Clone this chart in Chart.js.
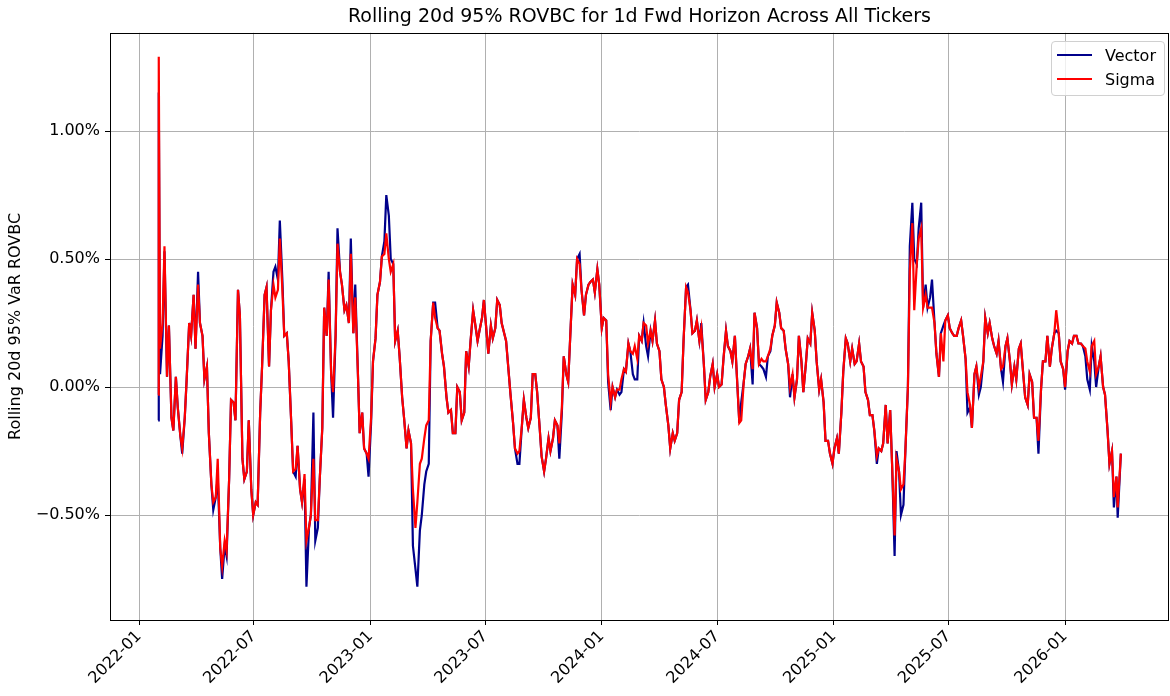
<!DOCTYPE html>
<html>
<head>
<meta charset="utf-8">
<script src="https://cdn.jsdelivr.net/npm/chart.js@4.4.1/dist/chart.umd.min.js"></script>
<style>
  body { margin: 0; background: #fff; }
  #wrap { position: relative; width: 1170px; height: 696px; }
  #legend {
    position: absolute; left: 1051px; top: 41px; width: 114px; height: 55px;
    box-sizing: border-box; border: 1px solid #d0d0d0; border-radius: 4px;
    background: rgba(255, 255, 255, 0.8);
    font: 16px 'DejaVu Sans', sans-serif; color: #000;
  }
  #legend .row { position: absolute; left: 0; height: 20px; display: flex; align-items: center; }
  #legend .swatch { width: 35px; height: 2px; margin-left: 5px; margin-right: 13px; }
</style>
</head>
<body>
<div id="wrap">
  <canvas id="chart" width="1170" height="696"></canvas>
  <div id="legend"></div>
</div>
<script>
// readings taken twice a week (Mon/Thu) off the picture, values in %
const dates = [
  '2022-01-31','2022-02-01','2022-02-03',
  '2022-02-07','2022-02-10','2022-02-14','2022-02-17','2022-02-21','2022-02-24','2022-02-28','2022-03-03',
  '2022-03-07','2022-03-10','2022-03-14','2022-03-17','2022-03-21','2022-03-24','2022-03-28','2022-03-31',
  '2022-04-04','2022-04-07','2022-04-11','2022-04-14','2022-04-18','2022-04-21','2022-04-25','2022-04-28',
  '2022-05-02','2022-05-05','2022-05-09','2022-05-12','2022-05-16','2022-05-19','2022-05-23','2022-05-26','2022-05-30','2022-06-02',
  '2022-06-06','2022-06-09','2022-06-13','2022-06-16','2022-06-20','2022-06-23','2022-06-27','2022-06-30',
  '2022-07-04','2022-07-07','2022-07-11','2022-07-14','2022-07-18','2022-07-21','2022-07-25','2022-07-28',
  '2022-08-01','2022-08-04','2022-08-08','2022-08-11','2022-08-15','2022-08-18','2022-08-22','2022-08-25','2022-08-29','2022-09-01',
  '2022-09-05','2022-09-08','2022-09-12','2022-09-15','2022-09-19','2022-09-22','2022-09-26','2022-09-29',
  '2022-10-03','2022-10-06','2022-10-10','2022-10-13','2022-10-17','2022-10-20','2022-10-24','2022-10-27','2022-10-31','2022-11-03',
  '2022-11-07','2022-11-10','2022-11-14','2022-11-17','2022-11-21','2022-11-24','2022-11-28','2022-12-01',
  '2022-12-05','2022-12-08','2022-12-12','2022-12-15','2022-12-19','2022-12-22','2022-12-26','2022-12-29',

  '2023-01-02','2023-01-05','2023-01-09','2023-01-12','2023-01-16','2023-01-19','2023-01-23','2023-01-26','2023-01-30','2023-02-02',
  '2023-02-06','2023-02-09','2023-02-13','2023-02-16','2023-02-20','2023-02-23','2023-02-27','2023-03-02',
  '2023-03-06','2023-03-09','2023-03-13','2023-03-16','2023-03-20','2023-03-23','2023-03-27','2023-03-30',
  '2023-04-03','2023-04-06','2023-04-10','2023-04-13','2023-04-17','2023-04-20','2023-04-24','2023-04-27',
  '2023-05-01','2023-05-04','2023-05-08','2023-05-11','2023-05-15','2023-05-18','2023-05-22','2023-05-25','2023-05-29','2023-06-01',
  '2023-06-05','2023-06-08','2023-06-12','2023-06-15','2023-06-19','2023-06-22','2023-06-26','2023-06-29',
  '2023-07-03','2023-07-06','2023-07-10','2023-07-13','2023-07-17','2023-07-20','2023-07-24','2023-07-27','2023-07-31','2023-08-03',
  '2023-08-07','2023-08-10','2023-08-14','2023-08-17','2023-08-21','2023-08-24','2023-08-28','2023-08-31',
  '2023-09-04','2023-09-07','2023-09-11','2023-09-14','2023-09-18','2023-09-21','2023-09-25','2023-09-28',
  '2023-10-02','2023-10-05','2023-10-09','2023-10-12','2023-10-16','2023-10-19','2023-10-23','2023-10-26','2023-10-30','2023-11-02',
  '2023-11-06','2023-11-09','2023-11-13','2023-11-16','2023-11-20','2023-11-23','2023-11-27','2023-11-30',
  '2023-12-04','2023-12-07','2023-12-11','2023-12-14','2023-12-18','2023-12-21','2023-12-25','2023-12-28',

  '2024-01-01','2024-01-04','2024-01-08','2024-01-11','2024-01-15','2024-01-18','2024-01-22','2024-01-25','2024-01-29','2024-02-01',
  '2024-02-05','2024-02-08','2024-02-12','2024-02-15','2024-02-19','2024-02-22','2024-02-26','2024-02-29',
  '2024-03-04','2024-03-07','2024-03-11','2024-03-14','2024-03-18','2024-03-21','2024-03-25','2024-03-28',
  '2024-04-01','2024-04-04','2024-04-08','2024-04-11','2024-04-15','2024-04-18','2024-04-22','2024-04-25','2024-04-29','2024-05-02',
  '2024-05-06','2024-05-09','2024-05-13','2024-05-16','2024-05-20','2024-05-23','2024-05-27','2024-05-30',
  '2024-06-03','2024-06-06','2024-06-10','2024-06-13','2024-06-17','2024-06-20','2024-06-24','2024-06-27',
  '2024-07-01','2024-07-04','2024-07-08','2024-07-11','2024-07-15','2024-07-18','2024-07-22','2024-07-25','2024-07-29','2024-08-01',
  '2024-08-05','2024-08-08','2024-08-12','2024-08-15','2024-08-19','2024-08-22','2024-08-26','2024-08-29',
  '2024-09-02','2024-09-05','2024-09-09','2024-09-12','2024-09-16','2024-09-19','2024-09-23','2024-09-26','2024-09-30','2024-10-03',
  '2024-10-07','2024-10-10','2024-10-14','2024-10-17','2024-10-21','2024-10-24','2024-10-28','2024-10-31',
  '2024-11-04','2024-11-07','2024-11-11','2024-11-14','2024-11-18','2024-11-21','2024-11-25','2024-11-28',
  '2024-12-02','2024-12-05','2024-12-09','2024-12-12','2024-12-16','2024-12-19','2024-12-23','2024-12-26','2024-12-30',

  '2025-01-02','2025-01-06','2025-01-09','2025-01-13','2025-01-16','2025-01-20','2025-01-23','2025-01-27','2025-01-30',
  '2025-02-03','2025-02-06','2025-02-10','2025-02-13','2025-02-17','2025-02-20','2025-02-24','2025-02-27',
  '2025-03-03','2025-03-06','2025-03-10','2025-03-13','2025-03-17','2025-03-20','2025-03-24','2025-03-27','2025-03-31','2025-04-03',
  '2025-04-07','2025-04-10','2025-04-14','2025-04-17','2025-04-21','2025-04-24','2025-04-28','2025-05-01',
  '2025-05-05','2025-05-08','2025-05-12','2025-05-15','2025-05-19','2025-05-22','2025-05-26','2025-05-29',
  '2025-06-02','2025-06-05','2025-06-09','2025-06-12','2025-06-16','2025-06-19','2025-06-23','2025-06-26','2025-06-30','2025-07-03',
  '2025-07-07','2025-07-10','2025-07-14','2025-07-17','2025-07-21','2025-07-24','2025-07-28','2025-07-31',
  '2025-08-04','2025-08-07','2025-08-11','2025-08-14','2025-08-18','2025-08-21','2025-08-25','2025-08-28',
  '2025-09-01','2025-09-04','2025-09-08','2025-09-11','2025-09-15','2025-09-18','2025-09-22','2025-09-25','2025-09-29','2025-10-02',
  '2025-10-06','2025-10-09','2025-10-13','2025-10-16','2025-10-20','2025-10-23','2025-10-27','2025-10-30',
  '2025-11-03','2025-11-06','2025-11-10','2025-11-13','2025-11-17','2025-11-20','2025-11-24','2025-11-27',
  '2025-12-01','2025-12-04','2025-12-08','2025-12-11','2025-12-15','2025-12-18','2025-12-22','2025-12-25','2025-12-29',

  '2026-01-01','2026-01-05','2026-01-08','2026-01-12','2026-01-15','2026-01-19','2026-01-22','2026-01-26','2026-01-29',
  '2026-02-02','2026-02-05','2026-02-09','2026-02-12','2026-02-16','2026-02-19','2026-02-23','2026-02-26',
  '2026-03-02','2026-03-05','2026-03-09','2026-03-12','2026-03-16','2026-03-19','2026-03-23','2026-03-25','2026-03-30'
];

const vector = [
  -0.13, 1.15, 0.05,
  0.20, 0.53, 0.04, 0.24, -0.12, -0.17, 0.04, -0.08,
  -0.19, -0.26, -0.12, 0.03, 0.25, 0.20, 0.36, 0.15,
  0.45, 0.25, 0.20, 0.03, 0.08, -0.18, -0.38, -0.48,
  -0.43, -0.35, -0.63, -0.75, -0.62, -0.66, -0.36, -0.05, -0.06, -0.13,
  0.38, 0.28, -0.28, -0.36, -0.33, -0.13, -0.40, -0.50,
  -0.45, -0.46, -0.10, 0.08, 0.36, 0.39, 0.08, 0.30,
  0.45, 0.47, 0.42, 0.65, 0.42, 0.20, 0.21, 0.10, -0.14, -0.33,
  -0.35, -0.23, -0.40, -0.45, -0.36, -0.78, -0.55, -0.50,
  -0.10, -0.60, -0.55, -0.36, -0.16, 0.31, 0.20, 0.45, 0.05, -0.12,
  0.20, 0.62, 0.45, 0.40, 0.30, 0.32, 0.25, 0.58,
  0.21, 0.40, 0.07, -0.18, -0.10, -0.24, -0.26, -0.35,

  -0.14, 0.10, 0.19, 0.36, 0.41, 0.51, 0.57, 0.75, 0.67, 0.50,
  0.48, 0.18, 0.22, 0.12, -0.04, -0.12, -0.24, -0.17,
  -0.22, -0.62, -0.71, -0.78, -0.56, -0.50, -0.38, -0.33,
  -0.30, 0.18, 0.33, 0.33, 0.23, 0.22, 0.13, 0.08,
  -0.04, -0.10, -0.09, -0.18, -0.18, 0.00, -0.02, -0.13, -0.10, 0.14,
  0.08, 0.18, 0.30, 0.25, 0.18, 0.22, 0.27, 0.34,
  0.22, 0.13, 0.24, 0.19, 0.23, 0.34, 0.32, 0.25, 0.21, 0.18,
  0.06, -0.03, -0.14, -0.24, -0.30, -0.30, -0.15, -0.05,
  -0.12, -0.16, -0.12, 0.05, 0.05, -0.02, -0.16, -0.27,
  -0.33, -0.28, -0.20, -0.25, -0.20, -0.13, -0.15, -0.28, -0.10, 0.12,
  0.05, 0.02, 0.24, 0.40, 0.36, 0.50, 0.52, 0.38,
  0.28, 0.36, 0.40, 0.41, 0.42, 0.37, 0.46, 0.40,

  0.23, 0.27, 0.26, 0.02, -0.09, 0.00, -0.04, -0.01, -0.03, -0.02,
  0.07, 0.06, 0.17, 0.14, 0.05, 0.03, 0.03, 0.20,
  0.18, 0.25, 0.16, 0.12, 0.22, 0.18, 0.26, 0.17,
  0.14, 0.03, 0.00, -0.07, -0.15, -0.24, -0.18, -0.21, -0.18, -0.05,
  -0.02, 0.18, 0.39, 0.40, 0.30, 0.21, 0.22, 0.26,
  0.18, 0.25, 0.09, -0.05, -0.02, 0.04, 0.09, 0.00,
  0.05, 0.00, 0.01, 0.11, 0.22, 0.16, 0.14, 0.10, 0.20, 0.05,
  -0.14, -0.06, 0.02, 0.09, 0.12, 0.15, 0.01, 0.29,
  0.23, 0.09, 0.08, 0.07, 0.04, 0.12, 0.14, 0.20, 0.24, 0.33,
  0.29, 0.23, 0.22, 0.15, 0.09, -0.04, 0.05, -0.04,
  0.03, 0.20, 0.10, -0.02, 0.09, 0.19, 0.17, 0.29,
  0.22, 0.10, -0.01, 0.03, -0.06, -0.21, -0.21, -0.26, -0.30,

  -0.24, -0.20, -0.26, -0.10, 0.06, 0.19, 0.17, 0.10, 0.15,
  0.09, 0.10, 0.17, 0.10, 0.08, -0.02, -0.05, -0.11,
  -0.11, -0.17, -0.30, -0.24, -0.25, -0.22, -0.07, -0.22, -0.09, -0.30,
  -0.66, -0.25, -0.33, -0.50, -0.46, -0.25, 0.00, 0.55,
  0.72, 0.50, 0.48, 0.62, 0.72, 0.31, 0.40, 0.31,
  0.35, 0.42, 0.25, 0.13, 0.04, 0.21, 0.24, 0.26, 0.28, 0.23,
  0.21, 0.20, 0.20, 0.23, 0.26, 0.20, 0.11, -0.10,
  -0.08, -0.16, 0.05, 0.08, -0.03, 0.00, 0.10, 0.27,
  0.21, 0.25, 0.19, 0.16, 0.13, 0.18, 0.07, 0.02, 0.16, 0.19,
  0.10, 0.01, 0.08, 0.03, 0.15, 0.17, 0.05, -0.04,
  -0.07, 0.05, 0.02, -0.12, -0.12, -0.26, -0.01, 0.10,
  0.10, 0.20, 0.08, 0.15, 0.21, 0.22, 0.21, 0.10, 0.07,

  -0.01, 0.14, 0.18, 0.17, 0.20, 0.20, 0.17, 0.17, 0.16,
  0.12, 0.03, -0.01, 0.16, 0.10, 0.00, 0.08, 0.12,
  0.00, -0.03, -0.17, -0.30, -0.25, -0.47, -0.35, -0.51, -0.26
];

const sigma = [
  -0.03, 1.29, 0.15,
  0.25, 0.55, 0.04, 0.24, -0.12, -0.17, 0.04, -0.08,
  -0.19, -0.24, -0.12, 0.03, 0.25, 0.20, 0.36, 0.15,
  0.40, 0.25, 0.20, 0.03, 0.08, -0.18, -0.38, -0.45,
  -0.43, -0.28, -0.63, -0.70, -0.60, -0.64, -0.36, -0.05, -0.06, -0.13,
  0.38, 0.28, -0.28, -0.36, -0.33, -0.13, -0.40, -0.50,
  -0.45, -0.46, -0.10, 0.08, 0.36, 0.39, 0.08, 0.30,
  0.40, 0.35, 0.38, 0.58, 0.38, 0.20, 0.21, 0.10, -0.14, -0.33,
  -0.32, -0.23, -0.40, -0.45, -0.34, -0.60, -0.55, -0.50,
  -0.28, -0.52, -0.52, -0.36, -0.16, 0.31, 0.20, 0.42, 0.05, -0.02,
  0.20, 0.56, 0.45, 0.40, 0.30, 0.32, 0.25, 0.52,
  0.21, 0.35, 0.07, -0.18, -0.10, -0.24, -0.26, -0.28,

  -0.12, 0.10, 0.19, 0.36, 0.41, 0.51, 0.52, 0.60, 0.50, 0.45,
  0.48, 0.18, 0.22, 0.12, -0.04, -0.12, -0.24, -0.17,
  -0.22, -0.40, -0.55, -0.45, -0.30, -0.28, -0.20, -0.15,
  -0.13, 0.18, 0.33, 0.27, 0.23, 0.22, 0.13, 0.08,
  -0.04, -0.10, -0.09, -0.18, -0.18, 0.00, -0.02, -0.13, -0.10, 0.14,
  0.08, 0.18, 0.30, 0.25, 0.18, 0.22, 0.27, 0.34,
  0.22, 0.13, 0.24, 0.19, 0.23, 0.34, 0.32, 0.25, 0.21, 0.18,
  0.06, -0.03, -0.14, -0.24, -0.26, -0.25, -0.15, -0.05,
  -0.12, -0.16, -0.12, 0.05, 0.05, -0.02, -0.16, -0.27,
  -0.33, -0.28, -0.20, -0.25, -0.20, -0.13, -0.15, -0.22, -0.08, 0.12,
  0.05, 0.02, 0.24, 0.40, 0.36, 0.50, 0.48, 0.38,
  0.28, 0.36, 0.40, 0.41, 0.42, 0.37, 0.46, 0.40,

  0.23, 0.27, 0.26, 0.05, -0.06, 0.00, -0.04, -0.01, -0.01, 0.03,
  0.07, 0.06, 0.17, 0.14, 0.13, 0.16, 0.11, 0.20,
  0.18, 0.25, 0.24, 0.17, 0.22, 0.18, 0.26, 0.17,
  0.14, 0.03, 0.00, -0.07, -0.15, -0.24, -0.18, -0.21, -0.18, -0.05,
  -0.02, 0.18, 0.39, 0.37, 0.30, 0.21, 0.22, 0.26,
  0.18, 0.23, 0.09, -0.05, -0.02, 0.04, 0.09, 0.00,
  0.05, 0.00, 0.01, 0.11, 0.22, 0.16, 0.14, 0.10, 0.20, 0.05,
  -0.14, -0.13, 0.02, 0.09, 0.12, 0.15, 0.07, 0.29,
  0.23, 0.09, 0.11, 0.10, 0.10, 0.12, 0.15, 0.20, 0.24, 0.33,
  0.29, 0.23, 0.22, 0.15, 0.09, 0.00, 0.05, -0.04,
  0.03, 0.20, 0.10, -0.02, 0.09, 0.19, 0.17, 0.29,
  0.22, 0.10, -0.01, 0.03, -0.06, -0.21, -0.21, -0.26, -0.30,

  -0.24, -0.20, -0.26, -0.10, 0.06, 0.19, 0.17, 0.10, 0.15,
  0.09, 0.10, 0.17, 0.10, 0.08, -0.02, -0.05, -0.11,
  -0.11, -0.17, -0.27, -0.24, -0.25, -0.22, -0.07, -0.22, -0.09, -0.30,
  -0.58, -0.28, -0.33, -0.40, -0.38, -0.25, 0.00, 0.45,
  0.64, 0.30, 0.48, 0.58, 0.62, 0.31, 0.36, 0.31,
  0.31, 0.31, 0.25, 0.13, 0.04, 0.21, 0.10, 0.26, 0.28, 0.23,
  0.21, 0.20, 0.20, 0.23, 0.26, 0.20, 0.11, -0.02,
  -0.07, -0.16, 0.05, 0.08, 0.00, 0.04, 0.10, 0.27,
  0.21, 0.25, 0.19, 0.16, 0.13, 0.18, 0.07, 0.08, 0.16, 0.19,
  0.10, 0.01, 0.08, 0.03, 0.15, 0.17, 0.05, -0.04,
  -0.07, 0.05, 0.02, -0.12, -0.12, -0.21, -0.01, 0.10,
  0.10, 0.20, 0.08, 0.15, 0.21, 0.30, 0.21, 0.10, 0.07,

  0.00, 0.14, 0.18, 0.17, 0.20, 0.20, 0.17, 0.17, 0.16,
  0.15, 0.10, 0.06, 0.16, 0.18, 0.05, 0.08, 0.12,
  0.00, -0.03, -0.17, -0.30, -0.25, -0.43, -0.35, -0.47, -0.26
];

const tickLabels = ['2022-01', '2022-07', '2023-01', '2023-07', '2024-01', '2024-07', '2025-01', '2025-07', '2026-01'];
const yTicks = [-0.5, 0, 0.5, 1.0];

const seriesNames = ['Vector', 'Sigma'];
const seriesColors = ['#00008b', '#ff0000'];

const FONT = 'DejaVu Sans';
const DAY = 86400000;
const origin = Date.UTC(2022, 0, 1);
const toDay = (s) => (Date.parse(s) - origin) / DAY;

const xs = dates.map(toDay);
const span = xs[xs.length - 1] - xs[0];

// axes frame drawn on top, like matplotlib spines
const frame = {
    id: 'frame',
    afterDraw(chart) {
        const { ctx, chartArea: a } = chart;
        ctx.save();
        ctx.strokeStyle = '#000';
        ctx.lineWidth = 1;
        ctx.strokeRect(Math.round(a.left) + 0.5, Math.round(a.top) + 0.5,
            Math.round(a.right - a.left) - 1, Math.round(a.bottom - a.top));
        ctx.restore();
    },
};

const chart = new Chart(document.getElementById('chart'), {
    type: 'line',
    data: {
        datasets: [vector, sigma].map((vals, i) => ({
            label: seriesNames[i],
            data: xs.map((x, j) => ({ x, y: vals[j] })),
            borderColor: seriesColors[i],
            borderWidth: 2.2,
            pointRadius: 0,
            tension: 0,
            order: 1 - i,
        })),
    },
    options: {
        responsive: false,
        animation: false,
        devicePixelRatio: 1,
        layout: { padding: { left: 0, right: 1, top: 0, bottom: 0 } },
        plugins: {
            legend: { display: false },
            tooltip: { enabled: false },
            title: {
                display: true,
                fullSize: false,
                text: 'Rolling 20d 95% ROVBC for 1d Fwd Horizon Across All Tickers',
                color: '#000',
                font: { family: FONT, size: 19, weight: 'normal' },
                padding: { top: 6, bottom: 4 },
            },
        },
        scales: {
            x: {
                type: 'linear',
                min: xs[0] - 0.05 * span,
                max: xs[xs.length - 1] + 0.05 * span,
                afterBuildTicks: (s) => { s.ticks = tickLabels.map((t) => ({ value: toDay(t + '-01') })); },
                afterFit: (s) => { s.height = 76; },
                ticks: {
                    autoSkip: false,
                    minRotation: 45,
                    maxRotation: 45,
                    color: '#000',
                    padding: 2,
                    font: { family: FONT, size: 16 },
                    callback: (v, i) => tickLabels[i],
                },
                grid: { color: '#b0b0b0', lineWidth: 1, tickColor: '#000', tickLength: 5 },
                border: { display: false },
            },
            y: {
                min: -0.91,
                max: 1.3836,
                afterBuildTicks: (s) => { s.ticks = yTicks.map((v) => ({ value: v })); },
                afterFit: (s) => { s.width = 110; },
                ticks: {
                    color: '#000',
                    padding: 5,
                    font: { family: FONT, size: 16 },
                    callback: (v) => (v < 0 ? '\u2212' : '') + Math.abs(v).toFixed(2) + '%',
                },
                title: {
                    display: true,
                    text: 'Rolling 20d 95% VaR ROVBC',
                    color: '#000',
                    font: { family: FONT, size: 16 },
                    padding: { top: 6, bottom: 0 },
                },
                grid: { color: '#b0b0b0', lineWidth: 1, tickColor: '#000', tickLength: 5 },
                border: { display: false },
            },
        },
    },
    plugins: [frame],
});

// legend box in the upper right of the axes
const legend = document.getElementById('legend');
seriesNames.forEach((name, i) => {
    const row = document.createElement('div');
    row.className = 'row';
    row.style.top = (3 + i * 24) + 'px';
    row.innerHTML = '<span class="swatch" style="background:' + seriesColors[i] + '"></span><span>' + name + '</span>';
    legend.appendChild(row);
});
</script>
</body>
</html>
